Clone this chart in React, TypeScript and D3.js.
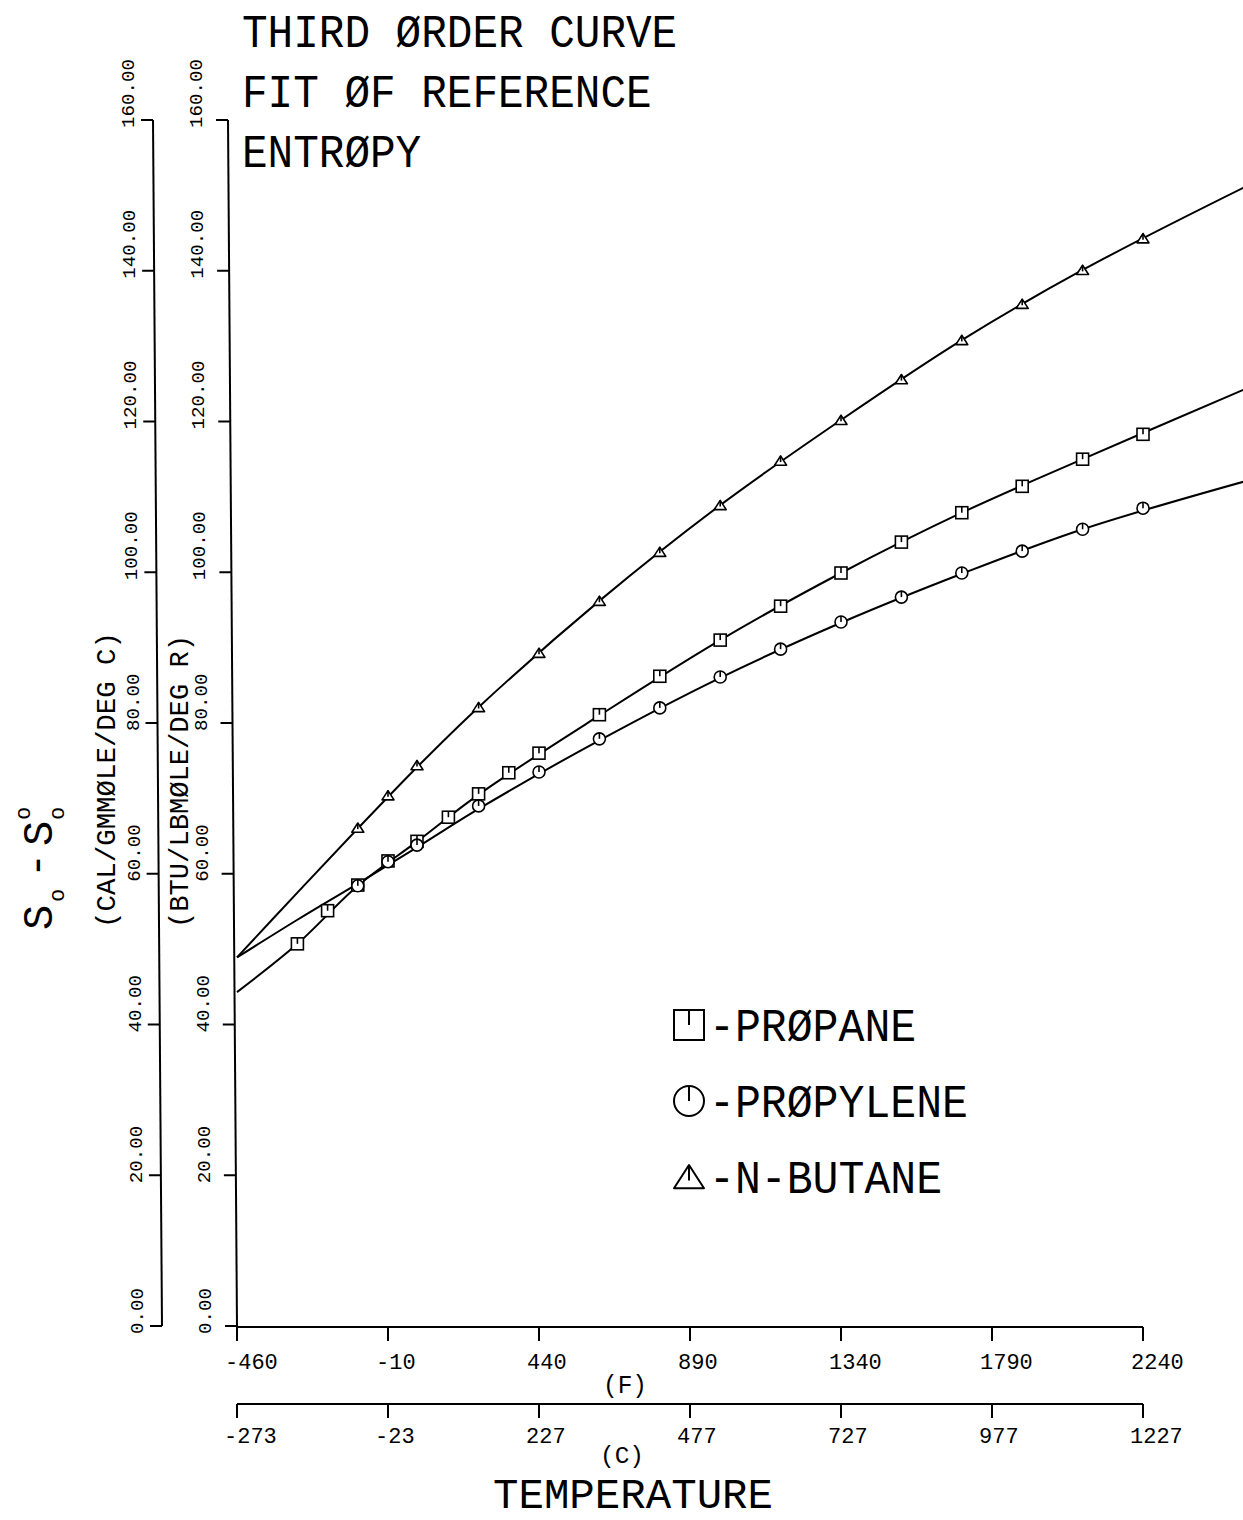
import React from "react";
import * as d3 from "d3";

const W = 1243;
const H = 1520;
const FONT = "'Liberation Mono', 'DejaVu Sans Mono', monospace";

// tabulated points (temperature in K, entropy)
const butaneT = [200, 250, 298, 400, 500, 600, 700, 800, 900, 1000, 1100, 1200, 1300, 1400, 1500];
const butaneS = [66.1, 70.4, 74.4, 82.1, 89.3, 96.2, 102.7, 108.9, 114.8, 120.2, 125.6, 130.8, 135.6, 140.1, 144.3];

const propaneT = [100, 150, 200, 250, 298, 350, 400, 450, 500, 600, 700, 800, 900, 1000, 1100, 1200, 1300, 1400, 1500];
const propaneS = [50.7, 55.1, 58.5, 61.7, 64.3, 67.5, 70.6, 73.4, 76.0, 81.1, 86.2, 91.0, 95.5, 99.9, 104.0, 107.9, 111.4, 115.0, 118.3];

const propyleneT = [200, 250, 298, 400, 500, 600, 700, 800, 900, 1000, 1100, 1200, 1300, 1400, 1500];
const propyleneS = [58.4, 61.6, 63.8, 69.0, 73.5, 77.9, 82.0, 86.1, 89.8, 93.4, 96.7, 99.9, 102.8, 105.7, 108.5];

// third order fit curves
const fitT = [0, 100, 200, 300, 400, 600, 800, 1000, 1200, 1400, 1666];
const butaneFit = [48.9, 57.5, 66.0, 74.3, 82.1, 96.2, 108.9, 120.2, 130.8, 140.1, 151.0];
const propaneFit = [44.3, 50.7, 58.4, 64.4, 70.5, 81.0, 91.0, 99.9, 107.9, 115.0, 124.2];
const propyleneFit = [48.9, 53.9, 58.7, 63.6, 68.6, 77.7, 86.0, 93.3, 99.8, 105.7, 112.0];

// axes
const yTicks = [0, 20, 40, 60, 80, 100, 120, 140, 160];
const fTicks = [-460, -10, 440, 890, 1340, 1790, 2240];
const cTicks = [-273, -23, 227, 477, 727, 977, 1227];

const titleLines = ["THIRD ØRDER CURVE", "FIT ØF REFERENCE", "ENTRØPY"];
const legendItems = [
  { marker: "square", label: "-PRØPANE" },
  { marker: "circle", label: "-PRØPYLENE" },
  { marker: "triangle", label: "-N-BUTANE" },
];

const xK = d3.scaleLinear().domain([0, 1500]).range([237, 1143]);
const xF = d3.scaleLinear().domain([-460, 2240]).range([237, 1143]);
const xC = d3.scaleLinear().domain([-273, 1227]).range([237, 1143]);
const y = d3.scaleLinear().domain([0, 160]).range([1326, 120]);
// the plotted vertical axes lean slightly
const innerX = d3.scaleLinear().domain([0, 160]).range([237, 228]);
const outerX = d3.scaleLinear().domain([0, 160]).range([162, 153]);
const fmt = d3.format(".2f");

const line = d3
  .line<[number, number]>()
  .x((d) => xK(d[0]))
  .y((d) => y(d[1]))
  .curve(d3.curveCatmullRom.alpha(0.5));

function Marker({ type, cx, cy, s }: { type: string; cx: number; cy: number; s: number }) {
  const sw = s > 10 ? 2 : 1.6;
  if (type === "square") {
    return (
      <g transform={`translate(${cx},${cy})`} fill="#fff" stroke="#000" strokeWidth={sw}>
        <rect x={-s} y={-s} width={2 * s} height={2 * s} />
        <line x1={0} y1={-s} x2={0} y2={0} />
      </g>
    );
  }
  if (type === "circle") {
    return (
      <g transform={`translate(${cx},${cy})`} fill="#fff" stroke="#000" strokeWidth={sw}>
        <circle r={s} />
        <line x1={0} y1={-s} x2={0} y2={0} />
      </g>
    );
  }
  const top = -s * 0.8;
  const bot = s * 0.75;
  return (
    <g transform={`translate(${cx},${cy})`} fill="#fff" stroke="#000" strokeWidth={sw} strokeLinejoin="round">
      <path d={`M0,${top}L${s},${bot}L${-s},${bot}Z`} />
      <line x1={0} y1={top} x2={0} y2={bot * 0.3} />
    </g>
  );
}

function T({ x, y: ty, size, len, anchor = "start", children, rotate = false }: any) {
  return (
    <text
      x={rotate ? 0 : x}
      y={rotate ? 0 : ty}
      transform={rotate ? `translate(${x},${ty}) rotate(-90)` : undefined}
      fontSize={size}
      textAnchor={anchor}
      textLength={len}
      lengthAdjust="spacingAndGlyphs"
      fontFamily={FONT}
      fill="#000"
    >
      {children}
    </text>
  );
}

export default function App() {
  const series = [
    { T: propaneT, S: propaneS, fit: propaneFit, type: "square" },
    { T: propyleneT, S: propyleneS, fit: propyleneFit, type: "circle" },
    { T: butaneT, S: butaneS, fit: butaneFit, type: "triangle" },
  ];
  const fAxisY = 1327;
  const cAxisY = 1404;

  return (
    <svg
      width={W}
      height={H}
      style={{ position: "absolute", left: 0, top: 0 }}
      xmlns="http://www.w3.org/2000/svg"
    >
      <rect width={W} height={H} fill="#fff" />

      {/* title */}
      {titleLines.map((t, i) => (
        <T key={t} x={242} y={47 + i * 60} size={46} len={t.length * 25.6}>
          {t}
        </T>
      ))}

      {/* vertical axes */}
      {[outerX, innerX].map((ax, k) => (
        <g key={k} stroke="#000" strokeWidth={2} fill="none">
          <line x1={ax(0)} y1={y(0)} x2={ax(160)} y2={y(160)} />
          {yTicks.map((v) => (
            <line key={v} x1={ax(v) - 12} y1={y(v)} x2={ax(v)} y2={y(v)} />
          ))}
        </g>
      ))}
      {[outerX, innerX].map((ax, k) =>
        yTicks.map((v) => {
          const s = fmt(v);
          return (
            <T key={`${k}-${v}`} x={ax(v) - (k === 0 ? 19 : 26)} y={y(v) + 8} size={18} len={s.length * 11.5} rotate>
              {s}
            </T>
          );
        })
      )}

      {/* y titles */}
      <T x={115} y={928} size={27} len={296} rotate>
        (CAL/GMMØLE/DEG C)
      </T>
      <T x={188} y={928} size={27} len={293} rotate>
        (BTU/LBMØLE/DEG R)
      </T>
      <g transform="translate(52,930) rotate(-90)" fontFamily={FONT} fill="#000">
        <text x={0} y={0} fontSize={42}>S</text>
        <text x={28} y={12} fontSize={22}>o</text>
        <text x={52} y={-2} fontSize={42}>-</text>
        <text x={84} y={0} fontSize={42}>S</text>
        <text x={110} y={12} fontSize={22}>o</text>
        <text x={110} y={-22} fontSize={22}>o</text>
      </g>

      {/* F and C axes */}
      <g stroke="#000" strokeWidth={2} fill="none">
        <line x1={xF(-460)} y1={fAxisY} x2={xF(2240)} y2={fAxisY} />
        {fTicks.map((v) => (
          <line key={v} x1={xF(v)} y1={fAxisY} x2={xF(v)} y2={fAxisY + 14} />
        ))}
        <line x1={xC(-273)} y1={cAxisY} x2={xC(1227)} y2={cAxisY} />
        {cTicks.map((v) => (
          <line key={v} x1={xC(v)} y1={cAxisY} x2={xC(v)} y2={cAxisY + 14} />
        ))}
      </g>
      {fTicks.map((v) => (
        <T key={v} x={xF(v) - 12} y={1369} size={22} len={String(v).length * 13.2}>
          {String(v)}
        </T>
      ))}
      {cTicks.map((v) => (
        <T key={v} x={xC(v) - 13} y={1443} size={22} len={String(v).length * 13.2}>
          {String(v)}
        </T>
      ))}
      <T x={625} y={1393} size={25} len={44} anchor="middle">(F)</T>
      <T x={622} y={1463} size={24} len={44} anchor="middle">(C)</T>
      <T x={633} y={1508} size={42} len={280} anchor="middle">TEMPERATURE</T>

      {/* fit curves */}
      {series.map((s) => (
        <path
          key={s.type}
          d={line(fitT.map((t, i) => [t, s.fit[i]] as [number, number])) || ""}
          fill="none"
          stroke="#000"
          strokeWidth={2}
        />
      ))}

      {/* data points */}
      {series.map((s) =>
        s.T.map((t, i) => (
          <Marker key={`${s.type}-${t}`} type={s.type} cx={xK(t)} cy={y(s.S[i])} s={6} />
        ))
      )}

      {/* legend */}
      {legendItems.map((d, i) => (
        <g key={d.label}>
          <Marker type={d.marker} cx={689} cy={1025 + i * 76} s={15} />
          <T x={709} y={1041 + i * 76} size={47} len={d.label.length * 25.9}>
            {d.label}
          </T>
        </g>
      ))}
    </svg>
  );
}
